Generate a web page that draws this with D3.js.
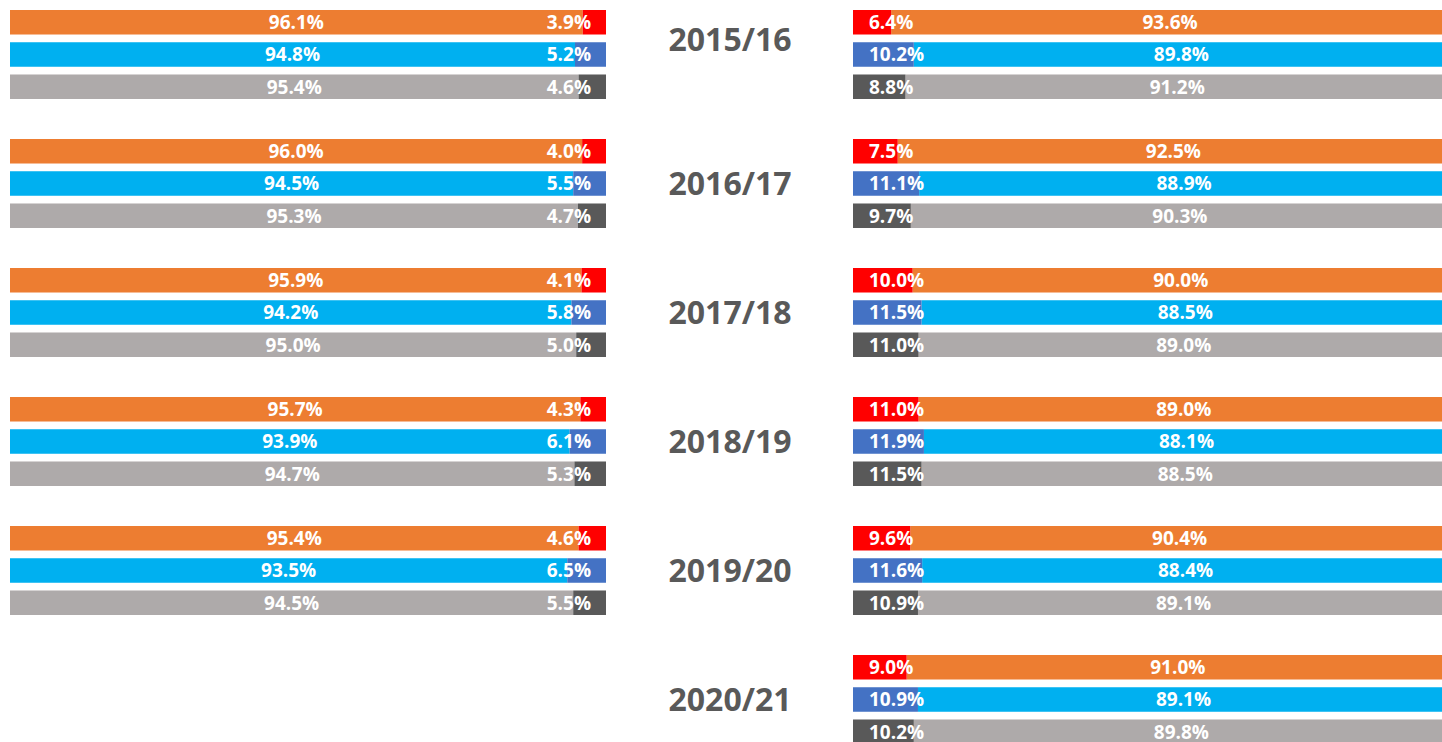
<!DOCTYPE html>
<html>
<head>
<meta charset="utf-8">
<script src="https://cdn.jsdelivr.net/npm/d3@7"></script>
<style>
  html, body { margin: 0; padding: 0; background: #fff; overflow: hidden; }
  svg { display: block; }
</style>
</head>
<body>
<svg id="chart" width="1442" height="742"></svg>
<script>
// years shown in each panel
const yearsRight = ['2015/16', '2016/17', '2017/18', '2018/19', '2019/20', '2020/21'];
const yearsLeft = ['2015/16', '2016/17', '2017/18', '2018/19', '2019/20'];
const series = ['orange', 'blue', 'grey'];

// left panel: large share then small share (per year, per series)
const leftMain = [
    [96.1, 94.8, 95.4],
    [96.0, 94.5, 95.3],
    [95.9, 94.2, 95.0],
    [95.7, 93.9, 94.7],
    [95.4, 93.5, 94.5]
];
const leftSmall = [
    [3.9, 5.2, 4.6],
    [4.0, 5.5, 4.7],
    [4.1, 5.8, 5.0],
    [4.3, 6.1, 5.3],
    [4.6, 6.5, 5.5]
];

// right panel: small share then large share
const rightSmall = [
    [6.4, 10.2, 8.8],
    [7.5, 11.1, 9.7],
    [10.0, 11.5, 11.0],
    [11.0, 11.9, 11.5],
    [9.6, 11.6, 10.9],
    [9.0, 10.9, 10.2]
];
const rightMain = [
    [93.6, 89.8, 91.2],
    [92.5, 88.9, 90.3],
    [90.0, 88.5, 89.0],
    [89.0, 88.1, 88.5],
    [90.4, 88.4, 89.1],
    [91.0, 89.1, 89.8]
];

const mainColor = { orange: '#ED7D31', blue: '#00B0F0', grey: '#AEAAAA' };
const smallColor = { orange: '#FF0000', blue: '#4472C4', grey: '#595959' };
const font = '"Open Sans", "DejaVu Sans", sans-serif';

const svg = d3.select('#chart');

// group positions
const yGroup = d3.scaleBand()
    .domain(yearsRight)
    .range([10, 10 + 129 * 6 - 40])
    .paddingInner(40 / 129);

const yRow = d3.scaleBand()
    .domain(series)
    .range([0, 89])
    .paddingInner(0.24);

const xLeft = d3.scaleLinear().domain([0, 100]).range([10, 606]);
const xRight = d3.scaleLinear().domain([0, 100]).range([853, 1449]);

const fmt = v => v.toFixed(1) + '%';

function addLabel(x, y, txt, anchor) {
    svg.append('text')
        .attr('x', x)
        .attr('y', y)
        .attr('dy', '0.36em')
        .attr('text-anchor', anchor)
        .style('font-family', font)
        .style('font-weight', 700)
        .style('font-size', '19px')
        .style('fill', '#fff')
        .text(txt);
}

// Left panel
yearsLeft.forEach((yr, i) => {
    series.forEach((s, j) => {
        const y0 = yGroup(yr) + yRow(s);
        const h = yRow.bandwidth();
        const m = leftMain[i][j];
        const sm = leftSmall[i][j];

        svg.append('rect')
            .attr('x', xLeft(0))
            .attr('y', y0)
            .attr('width', xLeft(m) - xLeft(0))
            .attr('height', h)
            .attr('fill', mainColor[s]);

        svg.append('rect')
            .attr('x', xLeft(100 - sm))
            .attr('y', y0)
            .attr('width', xLeft(100) - xLeft(100 - sm))
            .attr('height', h)
            .attr('fill', smallColor[s]);

        addLabel((xLeft(0) + xLeft(m)) / 2, y0 + h / 2, fmt(m), 'middle');
        addLabel(xLeft(100) - 15, y0 + h / 2, fmt(sm), 'end');
    });
});

// Right panel
yearsRight.forEach((yr, i) => {
    series.forEach((s, j) => {
        const y0 = yGroup(yr) + yRow(s);
        const h = yRow.bandwidth();
        const sm = rightSmall[i][j];
        const m = rightMain[i][j];

        svg.append('rect')
            .attr('x', xRight(sm))
            .attr('y', y0)
            .attr('width', xRight(100) - xRight(sm))
            .attr('height', h)
            .attr('fill', mainColor[s]);

        svg.append('rect')
            .attr('x', xRight(0))
            .attr('y', y0)
            .attr('width', xRight(sm) - xRight(0))
            .attr('height', h)
            .attr('fill', smallColor[s]);

        addLabel(xRight(0) + 16, y0 + h / 2, fmt(sm), 'start');
        addLabel((xRight(sm) + xRight(100)) / 2, y0 + h / 2, fmt(m), 'middle');
    });
});

// Year labels in the middle
yearsRight.forEach((yr, i) => {
    let cy = yGroup(yr) + yGroup.bandwidth() / 2;
    if (i === 0) cy = 39; // first label sits higher in the original
    svg.append('text')
        .attr('x', 730)
        .attr('y', cy)
        .attr('dy', '0.36em')
        .attr('text-anchor', 'middle')
        .style('font-family', font)
        .style('font-weight', 700)
        .style('font-size', '32px')
        .style('fill', '#595959')
        .text(yr);
});
</script>
</body>
</html>
